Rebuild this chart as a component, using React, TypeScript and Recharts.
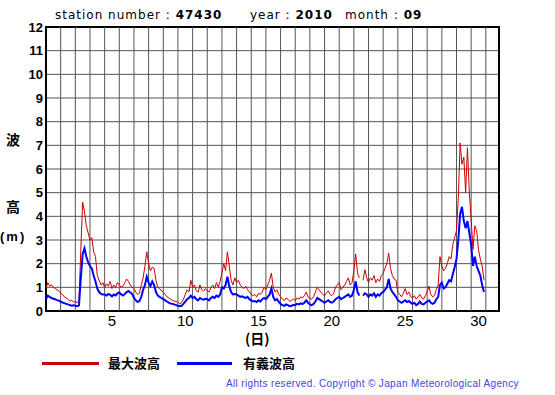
import React from "react"
import { LineChart, Line, XAxis, YAxis, CartesianGrid, ReferenceLine, ReferenceArea } from "recharts"

// 3-hourly readings, Sept 2010, station 47430 (8 values per day)
const maxWave: (number | null)[] = [
  0.95, 1.2, 1.05, 1.1, 1.0, 0.95, 0.9, 0.85,
  0.75, 0.7, 0.6, 0.55, 0.5, 0.42, 0.45, 0.38,
  0.4, 0.35, 0.45, 2.6, 4.6, 4.2, 3.6, 3.3,
  3.0, 3.1, 2.5, 2.3, 1.5, 1.3, 1.1, 1.2,
  1.0, 1.15, 1.05, 1.25, 0.95, 1.1, 1.0, 1.2,
  1.1, 1.0, 1.05, 1.2, 1.35, 1.25, 1.1, 1.0,
  0.95, 0.8, 0.7, 0.75, 1.1, 1.4, 1.9, 2.5,
  2.0, 1.7, 1.85, 1.8, 1.3, 1.0, 0.95, 0.85,
  0.8, 0.7, 0.6, 0.55, 0.5, 0.45, 0.42, 0.4,
  0.38, 0.3, 0.35, 0.5, 0.7, 0.9, 0.8, 1.3,
  1.0, 1.1, 0.85, 0.8, 1.1, 0.9, 0.85, 0.95,
  0.85, 0.8, 1.0, 1.1, 0.95, 1.2, 1.0, 1.25,
  1.6, 2.0, 1.7, 2.5, 1.9, 1.3, 1.1, 1.4,
  1.2, 1.3, 1.1, 1.0, 0.95, 1.05, 0.9, 0.8,
  0.7, 0.65, 0.7, 0.6, 0.75, 0.7, 0.8, 1.0,
  0.9, 1.1, 1.3, 1.6, 1.0, 0.8, 0.9, 0.7,
  0.6, 0.5, 0.45, 0.55, 0.5, 0.4, 0.45, 0.5,
  0.45, 0.55, 0.5, 0.6, 0.55, 0.65, 0.8, 0.6,
  0.55, 0.5, 0.6, 0.8, 1.0, 0.9, 0.8, 0.7,
  0.65, 0.75, 0.85, 0.7, 0.65, 0.75, 1.0, 1.1,
  1.2, 0.9, 1.0, 1.1, 1.25, 1.4, 1.1, 1.2,
  1.7, 2.4, 1.6, 1.4, null, 1.3, 1.75, 1.4,
  1.2, 1.4, 1.3, 1.5, 1.2, 1.35, 1.25, 1.5,
  1.6, 1.8, 2.0, 2.45, 1.8, 1.5, 1.35, 1.3,
  0.8, 0.7, 0.6, 0.75, 0.95, 0.7, 0.8, 0.6,
  0.55, 0.65, 0.5, 0.6, 0.7, 0.55, 0.5, 0.65,
  0.8, 1.05, 0.7, 0.6, 0.65, 0.9, 1.1, 2.3,
  1.9, 1.7, 1.8, 2.0, 2.3, 2.2, 2.8, 3.1,
  3.4, 4.8, 7.1, 6.2, 6.5, 5.0, 6.9, 5.0,
  3.9, 2.6, 3.6, 3.4, 2.6, 2.2, 1.9, 1.3,
]

const sigWave: (number | null)[] = [
  0.5, 0.65, 0.6, 0.55, 0.52, 0.5, 0.46, 0.44,
  0.4, 0.36, 0.33, 0.3, 0.28, 0.25, 0.22, 0.24,
  0.22, 0.2, 0.24, 1.4, 2.4, 2.65, 2.3, 2.05,
  1.9, 1.8, 1.5, 1.25, 0.95, 0.8, 0.72, 0.7,
  0.7, 0.65, 0.72, 0.68, 0.62, 0.7, 0.66, 0.75,
  0.78, 0.7, 0.65, 0.72, 0.8, 0.85, 0.78, 0.72,
  0.55, 0.45, 0.38, 0.42, 0.6, 0.9, 1.1, 1.45,
  1.2, 1.05, 1.25, 1.1, 0.8, 0.65, 0.6, 0.55,
  0.5, 0.45, 0.4, 0.35, 0.32, 0.3, 0.28, 0.25,
  0.22, 0.2, 0.22, 0.3, 0.4, 0.5, 0.55, 0.65,
  0.55, 0.6, 0.5, 0.45, 0.55, 0.5, 0.48, 0.52,
  0.5, 0.45, 0.55, 0.6, 0.55, 0.65, 0.6, 0.7,
  1.0, 0.95, 1.1, 1.45, 1.05, 0.8, 0.7, 0.72,
  0.7, 0.65, 0.6, 0.62, 0.58, 0.55, 0.6, 0.5,
  0.45, 0.4, 0.42, 0.38, 0.45, 0.4, 0.5, 0.55,
  0.5, 0.6, 0.7, 0.95, 0.6, 0.45, 0.5, 0.4,
  0.3, 0.25, 0.22, 0.28, 0.25, 0.2, 0.22, 0.25,
  0.25, 0.3, 0.28, 0.32, 0.3, 0.35, 0.45, 0.35,
  0.28, 0.25, 0.3, 0.4, 0.55, 0.5, 0.45, 0.4,
  0.35, 0.4, 0.45, 0.38, 0.35, 0.4, 0.5, 0.55,
  0.6, 0.5, 0.55, 0.6, 0.65, 0.7, 0.6, 0.65,
  0.9, 1.25, 0.8, 0.65, null, 0.65, 0.75, 0.7,
  0.6, 0.7, 0.65, 0.75, 0.6, 0.7, 0.65, 0.75,
  0.8, 0.9, 1.0, 1.35, 0.95, 0.8, 0.7, 0.6,
  0.45, 0.4, 0.35, 0.4, 0.45, 0.38, 0.42, 0.35,
  0.3, 0.35, 0.25, 0.3, 0.4, 0.3, 0.28, 0.35,
  0.4, 0.45, 0.35, 0.3, 0.35, 0.5, 0.6, 1.1,
  1.2, 0.95, 1.0, 1.15, 1.3, 1.25, 1.55, 1.85,
  2.2, 3.0, 4.1, 4.4, 3.8, 3.5, 3.8, 3.3,
  2.8, 1.9, 2.3, 1.9, 1.7, 1.5, 1.1, 0.8,
]

const yTicks = [0, 1, 2, 3, 4, 5, 6, 7, 8, 9, 10, 11, 12]
const dayLines = [1, 2, 3, 4, 5, 6, 7, 8, 9, 10, 11, 12, 13, 14, 15, 16, 17, 18, 19, 20, 21, 22, 23, 24, 25, 26, 27, 28, 29, 30]
const dayLabels = [5, 10, 15, 20, 25, 30]

const data = maxWave.map((v, i) => ({ t: i / 8, max: v, sig: sigWave[i] }))

const sans = "'Liberation Sans', Arial, sans-serif"
const cjk = "'Noto Sans CJK JP', sans-serif"
const title = { position: "absolute" as const, top: 8, fontFamily: "'DejaVu Sans', sans-serif", fontSize: 12, letterSpacing: 1, whiteSpace: "nowrap" as const }
const yLabel = { position: "absolute" as const, fontFamily: cjk, fontSize: 14, fontWeight: "bold", lineHeight: "16px", whiteSpace: "nowrap" as const }

export default function App() {
  return (
    <div style={{ position: "absolute", left: 0, top: 0, width: 555, height: 395, background: "#fff" }}>
      <LineChart width={555} height={395} data={data} margin={{ top: 27, right: 56, left: 0, bottom: 0 }}>
        <CartesianGrid vertical={false} stroke="#555" />
        {dayLines.map((d) => (
          <ReferenceLine key={d} x={d} stroke="#555" />
        ))}
        <XAxis
          dataKey="t"
          type="number"
          domain={[0, 30.9]}
          allowDataOverflow
          ticks={dayLabels.map((d) => d - 0.5)}
          tickFormatter={(v) => String(v + 0.5)}
          tickLine={false}
          axisLine={false}
          tickSize={0}
          tickMargin={4}
          height={84}
          tick={{ fill: "#000", fontSize: 15, fontFamily: sans }}
        />
        <YAxis
          domain={[0, 12]}
          ticks={yTicks}
          interval={0}
          tickLine={false}
          axisLine={false}
          tickSize={0}
          tickMargin={3}
          width={46}
          tick={{ fill: "#000", fontSize: 13, fontWeight: "bold", fontFamily: sans }}
        />
        <Line dataKey="max" stroke="#cc0000" strokeWidth={1} dot={false} isAnimationActive={false} />
        <Line dataKey="sig" stroke="#0000ff" strokeWidth={2} dot={false} isAnimationActive={false} />
        <ReferenceArea x1={0} x2={30.9} y1={0} y2={12} fill="none" stroke="#000" strokeWidth={2} ifOverflow="visible" />
      </LineChart>

      <div style={{ ...title, left: 55 }}>
        station number : <b style={{ fontWeight: 600 }}>47430</b>
      </div>
      <div style={{ ...title, left: 250 }}>
        year : <b style={{ fontWeight: 600 }}>2010</b>
      </div>
      <div style={{ ...title, left: 345 }}>
        month : <b style={{ fontWeight: 600 }}>09</b>
      </div>

      <div style={{ ...yLabel, left: 6, top: 131 }}>波</div>
      <div style={{ ...yLabel, left: 6, top: 198 }}>高</div>
      <div style={{ ...yLabel, left: 0, top: 229, fontFamily: sans, fontSize: 13, letterSpacing: 2 }}>(m)</div>

      <div style={{ position: "absolute", left: 245, top: 329, fontFamily: cjk, fontSize: 14, fontWeight: "bold", lineHeight: "18px", whiteSpace: "nowrap" }}>(日)</div>

      <div style={{ position: "absolute", left: 42, top: 362, width: 57, height: 3, background: "#cc0000" }} />
      <div style={{ position: "absolute", left: 108, top: 355, fontFamily: cjk, fontSize: 13, fontWeight: "bold", lineHeight: "16px", whiteSpace: "nowrap" }}>最大波高</div>
      <div style={{ position: "absolute", left: 177, top: 362, width: 55, height: 3, background: "#0000ff" }} />
      <div style={{ position: "absolute", left: 243, top: 355, fontFamily: cjk, fontSize: 13, fontWeight: "bold", lineHeight: "16px", whiteSpace: "nowrap" }}>有義波高</div>

      <div style={{ position: "absolute", left: 226, top: 378, fontFamily: sans, fontSize: 10, letterSpacing: 0.35, color: "#4444dd", lineHeight: "12px", whiteSpace: "nowrap" }}>
        All rights reserved. Copyright © Japan Meteorological Agency
      </div>
    </div>
  )
}
